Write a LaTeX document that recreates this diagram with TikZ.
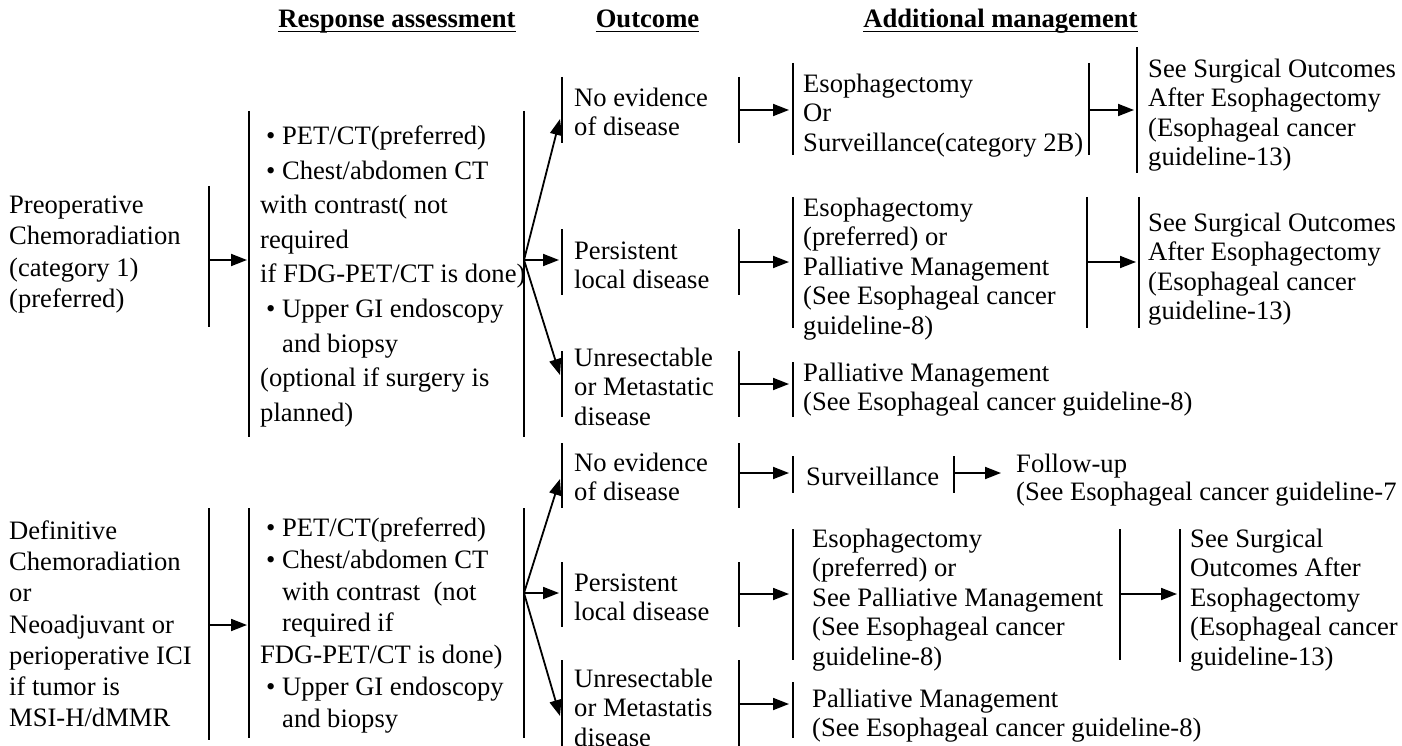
\documentclass[tikz,border=0pt]{standalone}
\usepackage{fontspec}
\setmainfont{Liberation Serif}
\usetikzlibrary{arrows.meta}
\begin{document}
\begin{tikzpicture}[x=1pt,y=-1pt,
  bar/.style={line width=1.8pt},
  arr/.style={line width=1.8pt,-{Triangle[length=16pt,width=12pt]}},
  txt/.style={anchor=north west,inner sep=0pt,align=left,
    font=\fontsize{26.6pt}{#1}\selectfont},
  txt/.default=29.5pt,
  hdr/.style={anchor=base,inner sep=0pt,font=\bfseries\fontsize{26.6pt}{30pt}\selectfont},
  uline/.style={line width=1.3pt}]
\fill[white] (0,0) rectangle (1402,746);
\useasboundingbox (0,0) rectangle (1402,746);

% column headings
\node[hdr] (h1) at (397,28) {Response assessment};
\node[hdr] (h2) at (647.5,28) {Outcome};
\node[hdr] (h3) at (1000.5,28) {Additional management};
\foreach \h in {h1,h2,h3}
  \draw[uline] ([yshift=-3.5pt]\h.base west) -- ([yshift=-3.5pt]\h.base east);

% treatment
\node[txt=31.5pt] (pre) at (9,191) {\strut Preoperative\\Chemoradiation\\(category 1)\\(preferred)};
\node[txt=31.3pt] (def) at (9,517) {\strut Definitive\\Chemoradiation\\or\\Neoadjuvant or\\perioperative ICI\\if tumor is\\MSI-H/dMMR};

% response assessment
\node[txt=34.6pt] (ra1) at (260,120) {\strut\hspace*{6pt}\textbullet\ PET/CT(preferred)\\
\hspace*{6pt}\textbullet\ Chest/abdomen CT\\
with contrast( not\\
required\\
if FDG-PET/CT is done)\\
\hspace*{6pt}\textbullet\ Upper GI endoscopy\\
\hspace*{22pt}and biopsy\\
(optional if surgery is\\
planned)};
\node[txt=31.8pt] (ra2) at (260,514) {\strut\hspace*{6pt}\textbullet\ PET/CT(preferred)\\
\hspace*{6pt}\textbullet\ Chest/abdomen CT\\
\hspace*{22pt}with contrast\ \ (not\\
\hspace*{22pt}required if\\
FDG-PET/CT is done)\\
\hspace*{6pt}\textbullet\ Upper GI endoscopy\\
\hspace*{22pt}and biopsy};

% outcomes
\node[txt] (o1) at (574,85.3) {\strut No evidence\\of disease};
\node[txt] (o2) at (574,238.3) {\strut Persistent\\local disease};
\node[txt] (o3) at (574,345.3) {\strut Unresectable\\or Metastatic\\disease};
\node[txt] (o4) at (574,450.3) {\strut No evidence\\of disease};
\node[txt] (o5) at (574,570.3) {\strut Persistent\\local disease};
\node[txt] (o6) at (574,666.3) {\strut Unresectable\\or Metastatis\\disease};

% additional management
\node[txt] (a1) at (803,71.3) {\strut Esophagectomy\\Or\\Surveillance(category 2B)};
\node[txt] (b1) at (1148,56.3) {\strut See Surgical Outcomes\\After Esophagectomy\\(Esophageal cancer\\guideline-13)};
\node[txt] (a2) at (803,195.3) {\strut Esophagectomy\\(preferred) or\\Palliative Management\\(See Esophageal cancer\\guideline-8)};
\node[txt] (b2) at (1148,210.3) {\strut See Surgical Outcomes\\After Esophagectomy\\(Esophageal cancer\\guideline-13)};
\node[txt] (a3) at (803,360.3) {\strut Palliative Management\\(See Esophageal cancer guideline-8)};
\node[txt] (a4) at (806,464.3) {\strut Surveillance};
\node[txt=28pt] (b4) at (1016,452.4) {\strut Follow-up\\(See Esophageal cancer guideline-7};
\node[txt] (a5) at (812,526.3) {\strut Esophagectomy\\(preferred) or\\See Palliative Management\\(See Esophageal cancer\\guideline-8)};
\node[txt] (b5) at (1190,526.3) {\strut See Surgical\\Outcomes After\\Esophagectomy\\(Esophageal cancer\\guideline-13)};
\node[txt] (a6) at (812,686.3) {\strut Palliative Management\\(See Esophageal cancer guideline-8)};

% vertical bars
\draw[bar] (209,186) -- (209,327);
\draw[bar] (209,508) -- (209,740);
\draw[bar] (249,111) -- (249,437);
\draw[bar] (524,111) -- (524,437);
\draw[bar] (249,508) -- (249,738);
\draw[bar] (524,508) -- (524,738);
\foreach \a/\b in {77/143,229/295,351/417,443/508,562/627,660/746}{
  \draw[bar] (562,\a) -- (562,\b);
  \draw[bar] (739,\a) -- (739,\b);
}
\foreach \a/\b in {63/155,197/328,362/417,456/493,529/660,682/738}
  \draw[bar] (793,\a) -- (793,\b);
\draw[bar] (1089,63) -- (1089,155);
\draw[bar] (1087,197) -- (1087,328);
\draw[bar] (954,456) -- (954,493);
\draw[bar] (1120,529) -- (1120,660);
\draw[bar] (1137,47) -- (1137,173);
\draw[bar] (1139,197) -- (1139,328);
\draw[bar] (1180,529) -- (1180,662);

% connector end points
\coordinate (preOut) at (209,260);  \coordinate (ra1In) at (247,260);
\coordinate (defOut) at (209,625);  \coordinate (ra2In) at (247,625);
\coordinate (ra1Out) at (524,260);
\coordinate (o1In) at (560,119); \coordinate (o2In) at (559,260); \coordinate (o3In) at (560,375);
\coordinate (ra2Out) at (524,593);
\coordinate (o4In) at (560,479); \coordinate (o5In) at (559,593); \coordinate (o6In) at (560,716);
\foreach \n/\y in {1/110,2/262,3/384,4/473,5/594,6/704}{
  \coordinate (o\n Out) at (739,\y);
  \coordinate (a\n In) at (789,\y);
}
\coordinate (a1Out) at (1089,110); \coordinate (b1In) at (1134,110);
\coordinate (a2Out) at (1087,262); \coordinate (b2In) at (1136,262);
\coordinate (a4Out) at (954,473);  \coordinate (b4In) at (1001,473);
\coordinate (a5Out) at (1120,594); \coordinate (b5In) at (1177,594);

% connectors
\draw[arr] (preOut) -- (ra1In);
\draw[arr] (defOut) -- (ra2In);
\foreach \t in {o1In,o2In,o3In} \draw[arr] (ra1Out) -- (\t);
\foreach \t in {o4In,o5In,o6In} \draw[arr] (ra2Out) -- (\t);
\foreach \n in {1,...,6} \draw[arr] (o\n Out) -- (a\n In);
\foreach \n in {1,2,4,5} \draw[arr] (a\n Out) -- (b\n In);
\end{tikzpicture}
\end{document}
